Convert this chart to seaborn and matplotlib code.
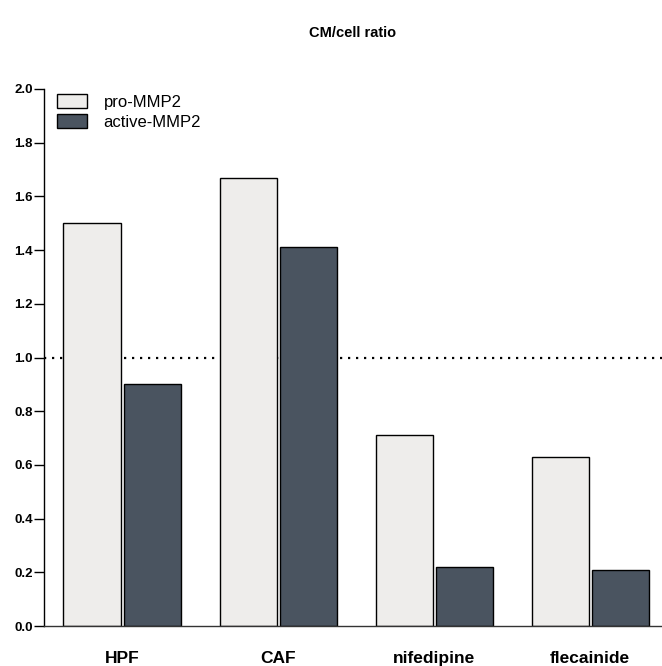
import pandas as pd
import matplotlib
matplotlib.use("Agg")
import matplotlib.pyplot as plt
import seaborn as sns

categories = ["HPF", "CAF", "nifedipine", "flecainide"]
series = ["pro-MMP2", "active-MMP2"]
pro_values = [1.50, 1.67, 0.71, 0.63]
active_values = [0.90, 1.41, 0.22, 0.21]
colors = ["#eeedeb", "#465464"]

df = pd.DataFrame({
    "group": categories * 2,
    "form": [series[0]] * 4 + [series[1]] * 4,
    "ratio": pro_values + active_values,
})

sns.set_style("white")
plt.rcParams["font.family"] = ["Liberation Sans", "DejaVu Sans"]
plt.rcParams["text.color"] = "black"
plt.rcParams["xtick.color"] = "black"
plt.rcParams["ytick.color"] = "black"

fig = plt.figure(figsize=(6.62, 6.66), dpi=100)
ax = fig.add_axes([0.0665, 0.06, 0.9335, 0.8064])

sns.barplot(data=df, x="group", y="ratio", hue="form", order=categories,
            hue_order=series, palette=colors, width=0.77, gap=0.05,
            edgecolor="black", linewidth=1.0, ax=ax)

# reference line at ratio 1
ax.axhline(1.0, color="black", linestyle=(0, (1, 2.6)), linewidth=1.6, zorder=0)

ax.set_ylim(0, 2.0)
ax.set_xlim(-0.5, 3.46)
ax.set_yticks([0.0, 0.2, 0.4, 0.6, 0.8, 1.0, 1.2, 1.4, 1.6, 1.8, 2.0])
ax.set_yticklabels([f"{v:.1f}" for v in ax.get_yticks()], fontweight="bold", fontsize=9.5)
ax.tick_params(axis="y", direction="out", length=7, width=1, pad=1, left=True)
ax.tick_params(axis="x", length=0, pad=18, labelsize=12.5)
for lbl in ax.get_xticklabels():
    lbl.set_fontweight("bold")
ax.set_xlabel("")
ax.set_ylabel("")

sns.despine(ax=ax, top=True, right=True)
ax.spines["left"].set_color("black")
ax.spines["bottom"].set_color("#333333")
ax.spines["left"].set_linewidth(1)
ax.spines["bottom"].set_linewidth(1)

ax.legend(loc="upper left", bbox_to_anchor=(0.01, 1.003), borderaxespad=0,
          frameon=False, fontsize=12, handlelength=1.8, handleheight=0.9,
          handletextpad=1.0, labelspacing=0.25)

fig.text(0.533, 0.95, "CM/cell ratio", ha="center", va="center",
         fontweight="bold", fontsize=10.5)

fig.savefig("out.png", dpi=100)
